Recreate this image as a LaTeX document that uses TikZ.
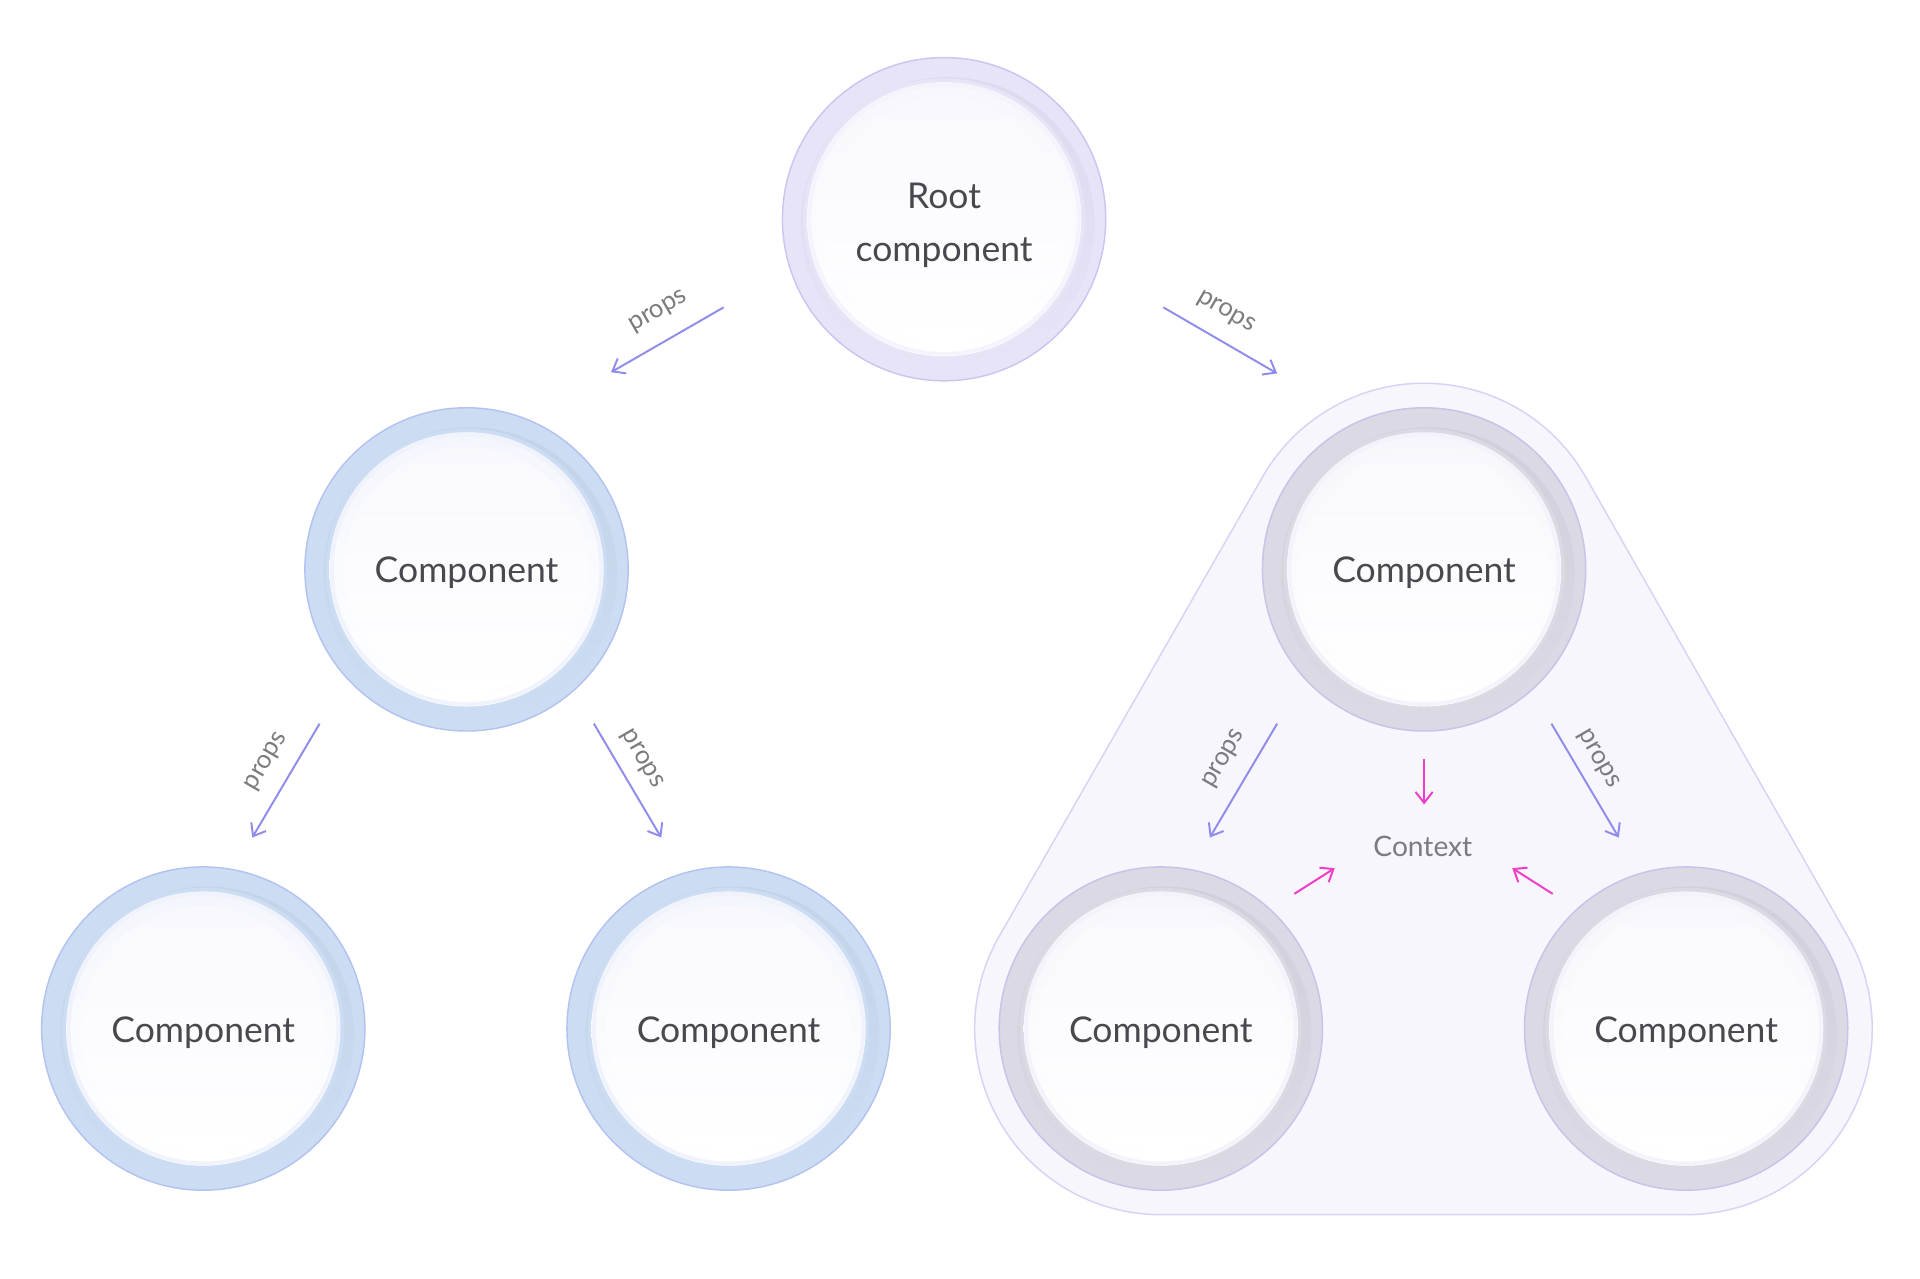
\documentclass[tikz,border=0pt]{standalone}
\usepackage{fontspec}
\setmainfont{Lato}
\usetikzlibrary{arrows.meta,calc}
\definecolor{arr}{HTML}{8F8CEC}
\definecolor{mag}{HTML}{F03CC8}
\definecolor{txt}{HTML}{48484F}
\definecolor{lab}{HTML}{7C7C80}
\definecolor{rootring}{HTML}{E7E4F8}
\definecolor{rootedge}{HTML}{CBC5F2}
\definecolor{bluering}{HTML}{CCDDF3}
\definecolor{blueedge}{HTML}{B3C3F0}
\definecolor{grayring}{HTML}{DAD9E4}
\definecolor{grayedge}{HTML}{C7C3EA}
\definecolor{hullfill}{HTML}{F6F6FC}
\definecolor{hulledge}{HTML}{D6D3F6}
\begin{document}
\begin{tikzpicture}[x=1pt,y=1pt,
  pa/.style={draw=arr,line width=1.6pt,-{Straight Barb[length=9pt,width=14pt,line width=1.6pt]}},
  ma/.style={draw=mag,line width=1.6pt,-{Straight Barb[length=9pt,width=14pt,line width=1.6pt]}},
  plab/.style={text=lab,font=\fontsize{21}{24}\selectfont},
  ctext/.style={text=txt,font=\fontsize{29}{44}\selectfont,align=center}]
\useasboundingbox (0,0) rectangle (1568,1044);
\newcommand\mycomp[5]{% name, x, y, ring, edge
  \coordinate (#1) at (#2,#3);
  \fill[#4] (#1) circle[radius=132];
  \draw[#5,line width=1.2pt] (#1) circle[radius=132];
  \shade[top color=#4!70!black!15!#4,bottom color=#4] (#1) ++(3,-4) circle[radius=120];
  \fill[#4] (#1) circle[radius=115];
  \shade[top color=white!85!#5,bottom color=white] (#1) circle[radius=112];
  \draw[white!80!#5,line width=3pt] (#1) circle[radius=110];
  \shade[top color=white!88!rootedge,bottom color=white] (#1) circle[radius=100];
}
% hull
\coordinate (T) at (1163,579);
\coordinate (L) at (948,204);
\coordinate (R) at (1377,204);
\filldraw[fill=hullfill,draw=hulledge,line width=1.2pt]
  ($(T)+(150:152)$) -- ($(L)+(150:152)$) arc[start angle=150,end angle=270,radius=152]
  -- ($(R)+(270:152)$) arc[start angle=270,end angle=390,radius=152]
  -- ($(T)+(30:152)$) arc[start angle=30,end angle=150,radius=152] -- cycle;
\mycomp{root}{771}{865}{rootring}{rootedge}
\mycomp{lc}{381}{579}{bluering}{blueedge}
\mycomp{bl}{166}{204}{bluering}{blueedge}
\mycomp{bm}{595}{204}{bluering}{blueedge}
\mycomp{rc}{1163}{579}{grayring}{grayedge}
\mycomp{rl}{948}{204}{grayring}{grayedge}
\mycomp{rr}{1377}{204}{grayring}{grayedge}
\node[ctext] (rootT) at (771,860) {Root\\component};
\foreach \n in {lc,bl,bm,rc,rl,rr} \node[ctext] (\n T) at ($(\n)+(0,-3)$) {Component};
\node[text=lab,font=\fontsize{23}{26}\selectfont] (ctx) at (1162,353) {Context};
% arrows
\coordinate (a1s) at (591,793); \coordinate (a1e) at (499,740);
\coordinate (a2s) at (950,793); \coordinate (a2e) at (1043,739);
\coordinate (a3s) at (261,453); \coordinate (a3e) at (206,360);
\coordinate (a4s) at (485,453); \coordinate (a4e) at (540,360);
\coordinate (a5s) at (1043,453); \coordinate (a5e) at (988,360);
\coordinate (a6s) at (1267,453); \coordinate (a6e) at (1322,360);
\foreach \i in {1,...,6} \draw[pa] (a\i s) -- (a\i e);
\node[plab,rotate=30] (p1) at (538,789) {props};
\node[plab,rotate=-30] (p2) at (1001,789) {props};
\node[plab,rotate=60] (p3) at (218,422) {props};
\node[plab,rotate=-60] (p4) at (524,424) {props};
\node[plab,rotate=60] (p5) at (1000,424) {props};
\node[plab,rotate=-60] (p6) at (1305,424) {props};
\coordinate (m1s) at (1163,424); \coordinate (m1e) at (1163,387);
\coordinate (m2s) at (1057,314); \coordinate (m2e) at (1090,335);
\coordinate (m3s) at (1268,314); \coordinate (m3e) at (1235,335);
\foreach \i in {1,2,3} \draw[ma] (m\i s) -- (m\i e);
\end{tikzpicture}
\end{document}
